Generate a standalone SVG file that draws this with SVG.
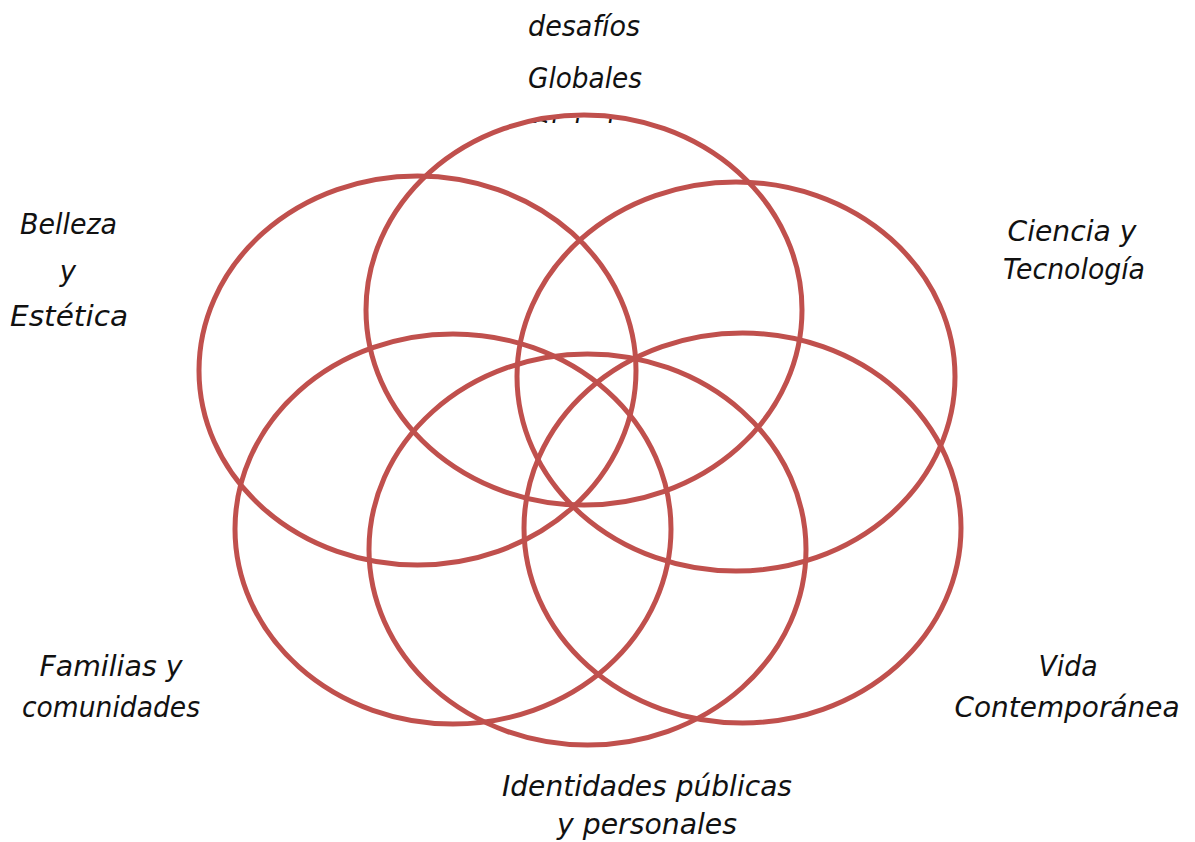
<svg xmlns="http://www.w3.org/2000/svg" width="1195" height="842" viewBox="0 0 1195 842">
<style>
.ring{fill:none;stroke:#C0504D;stroke-width:5}
.lbl{font-family:"DejaVu Sans","Liberation Sans",sans-serif;font-style:italic;font-size:27.5px;fill:#111;text-anchor:middle}
</style>
<defs>
<clipPath id="clipTop"><rect x="480" y="100" width="240" height="23"/></clipPath>
</defs>
<rect width="1195" height="842" fill="#fff"/>
<g id="labels-top">
<text class="lbl" x="584" y="36" textLength="112" lengthAdjust="spacingAndGlyphs">desafíos</text>
<text class="lbl" x="585" y="88" textLength="114" lengthAdjust="spacingAndGlyphs">Globales</text>
<text class="lbl" x="585" y="140" textLength="114" lengthAdjust="spacingAndGlyphs" clip-path="url(#clipTop)">Globales</text>
</g>
<g id="connectors">
<ellipse id="e-top" class="ring" cx="584" cy="310" rx="218" ry="195"/>
<ellipse id="e-left-up" class="ring" cx="417.5" cy="370.5" rx="218.5" ry="194.5"/>
<ellipse id="e-right-up" class="ring" cx="736" cy="376.5" rx="219" ry="194.5"/>
<ellipse id="e-left-low" class="ring" cx="453" cy="529" rx="218" ry="195"/>
<ellipse id="e-center-low" class="ring" cx="587.5" cy="549.5" rx="218.5" ry="195.5"/>
<ellipse id="e-right-low" class="ring" cx="742.5" cy="528" rx="218.5" ry="195"/>
</g>
<g id="node-belleza">
<text class="lbl" x="68.5" y="234" textLength="97" lengthAdjust="spacingAndGlyphs">Belleza</text>
<text class="lbl" x="68" y="281">y</text>
<text class="lbl" x="69" y="326" textLength="118" lengthAdjust="spacingAndGlyphs">Estética</text>
</g>
<g id="node-ciencia">
<text class="lbl" x="1072" y="241" textLength="129" lengthAdjust="spacingAndGlyphs">Ciencia y</text>
<text class="lbl" x="1074" y="279" textLength="142" lengthAdjust="spacingAndGlyphs">Tecnología</text>
</g>
<g id="node-familias">
<text class="lbl" x="111" y="676" textLength="143" lengthAdjust="spacingAndGlyphs">Familias y</text>
<text class="lbl" x="111" y="717" textLength="178" lengthAdjust="spacingAndGlyphs">comunidades</text>
</g>
<g id="node-vida">
<text class="lbl" x="1068" y="676" textLength="59" lengthAdjust="spacingAndGlyphs">Vida</text>
<text class="lbl" x="1067" y="717" textLength="225" lengthAdjust="spacingAndGlyphs">Contemporánea</text>
</g>
<g id="node-identidades">
<text class="lbl" x="647" y="796" textLength="290" lengthAdjust="spacingAndGlyphs">Identidades públicas</text>
<text class="lbl" x="647" y="834" textLength="180" lengthAdjust="spacingAndGlyphs">y personales</text>
</g>
</svg>
